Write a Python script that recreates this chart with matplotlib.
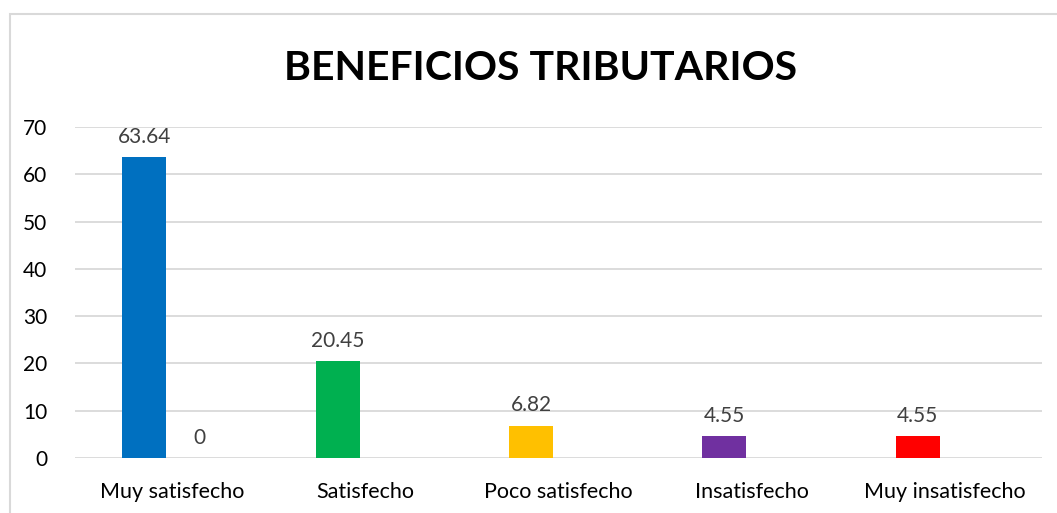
import matplotlib.pyplot as plt
import numpy as np
from matplotlib.patches import Rectangle

categorias = ['Muy satisfecho', 'Satisfecho', 'Poco satisfecho', 'Insatisfecho', 'Muy insatisfecho']
serie1 = [63.64, 20.45, 6.82, 4.55, 4.55]
serie2 = [0, np.nan, np.nan, np.nan, np.nan]
colores = ['#0070C0', '#00B050', '#FFC000', '#7030A0', '#FF0000']

plt.rcParams['font.family'] = ['Lato', 'DejaVu Sans']

fig = plt.figure(figsize=(10.57, 5.13), dpi=100)
# borde del area del grafico (cortado a la derecha y abajo)
fig.patches.append(Rectangle((10 / 1057, -0.1), 1.2, 1 - 14 / 513 + 0.1, transform=fig.transFigure,
                             fill=False, edgecolor='#D9D9D9', linewidth=1.5))

ax = fig.add_axes([75 / 1057, 1 - 458 / 513, (1042 - 75) / 1057, (458 - 127) / 513])

x = np.arange(len(categorias))
ancho = 0.228
b1 = ax.bar(x - 0.142, serie1, ancho, color=colores, zorder=3)
b2 = ax.bar(x + 0.142, np.nan_to_num(serie2), ancho, color='#ED7D31', zorder=3)

for i, v in enumerate(serie1):
    ax.text(x[i] - 0.142, v + 2.2, f'{v:g}', ha='center', va='bottom', fontsize=15, color='#404040')
for i, v in enumerate(serie2):
    if not np.isnan(v):
        ax.text(x[i] + 0.142, v + 2.2, f'{v:g}', ha='center', va='bottom', fontsize=15, color='#404040')

ax.set_xlim(-0.5, len(categorias) - 0.5)
ax.set_ylim(0, 70)
ax.set_yticks(range(0, 71, 10))
ax.set_xticks(x)
ax.set_xticklabels(categorias, fontsize=15.5, color='black')
ax.tick_params(axis='y', labelsize=15, length=0, pad=20)
ax.tick_params(axis='x', length=0, pad=17)
ax.grid(axis='y', color='#D9D9D9', linewidth=1.3, zorder=0)
for s in ax.spines.values():
    s.set_visible(False)

fig.text(541 / 1057, 1 - 68 / 513, 'BENEFICIOS TRIBUTARIOS', ha='center', va='center',
         fontsize=29.5, fontweight='bold')

fig.savefig('out.png', dpi=100)
